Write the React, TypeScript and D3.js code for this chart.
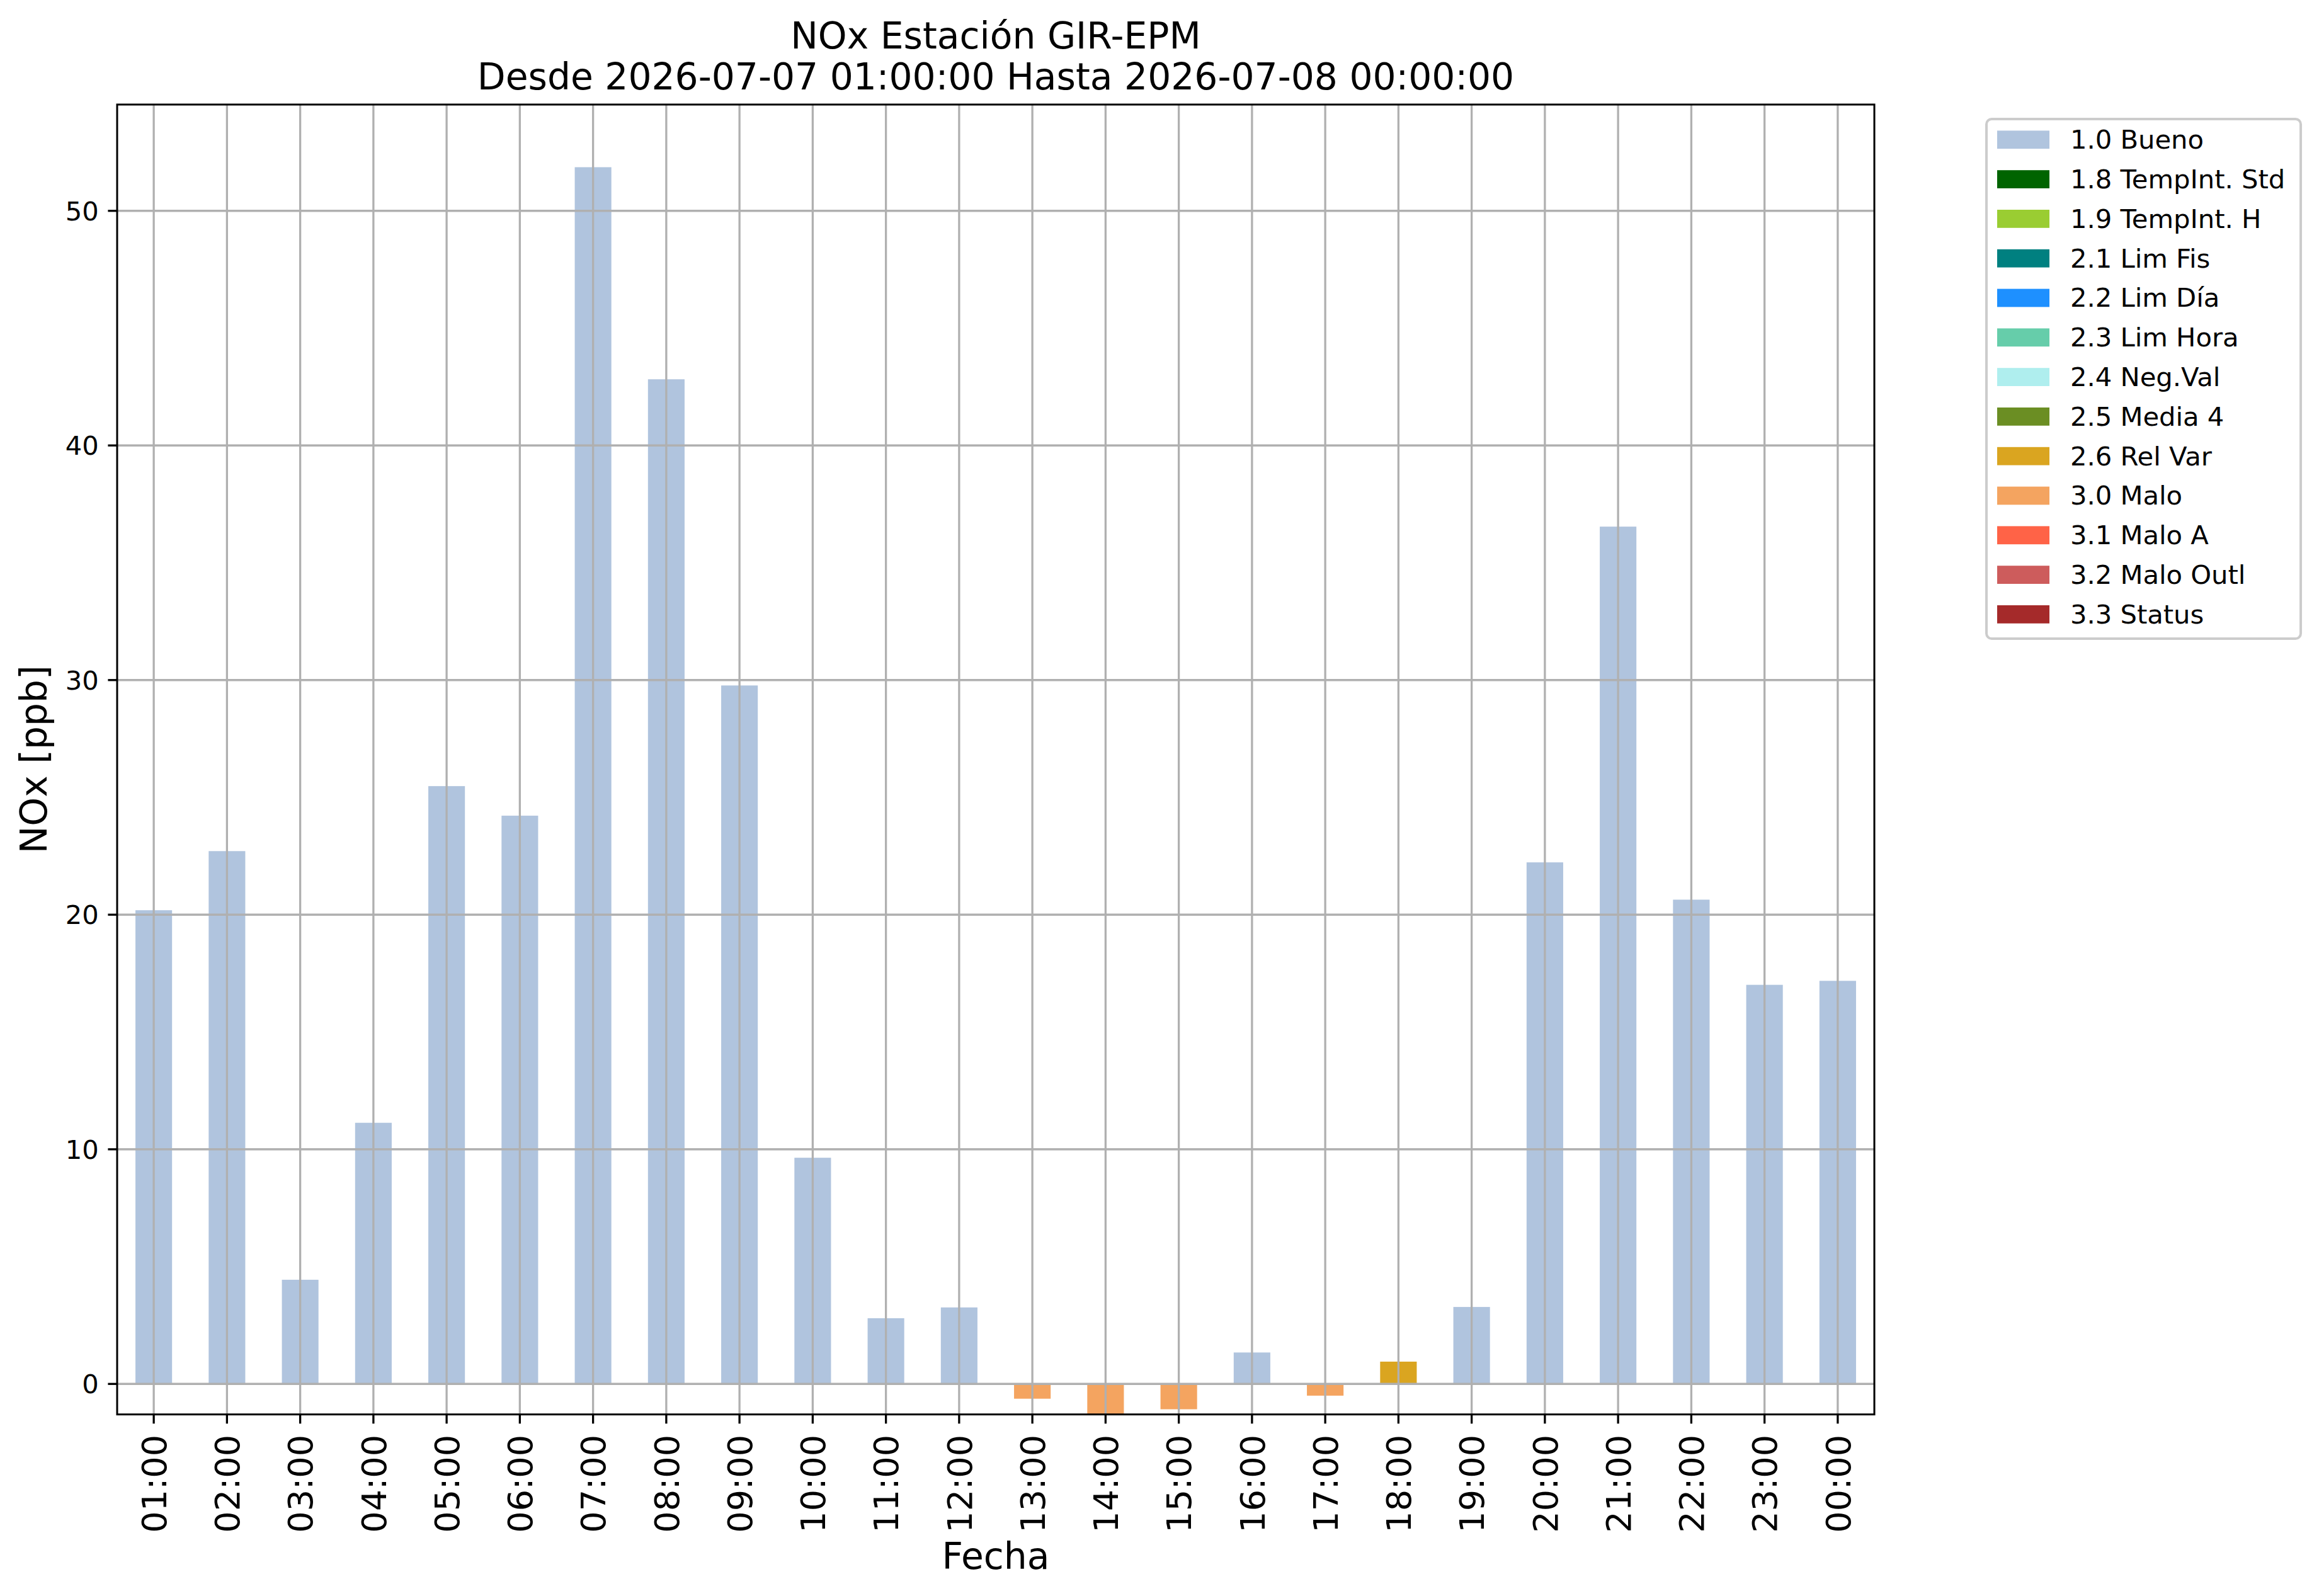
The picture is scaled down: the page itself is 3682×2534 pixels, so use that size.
import React from 'react';
import * as d3 from 'd3';

const TITLE_LINES = ['NOx Estación GIR-EPM', 'Desde 2026-07-07 01:00:00 Hasta 2026-07-08 00:00:00'];
const X_LABEL = 'Fecha';
const Y_LABEL = 'NOx [ppb]';

const HOURS = ['01:00', '02:00', '03:00', '04:00', '05:00', '06:00', '07:00', '08:00', '09:00', '10:00', '11:00', '12:00',
  '13:00', '14:00', '15:00', '16:00', '17:00', '18:00', '19:00', '20:00', '21:00', '22:00', '23:00', '00:00'];
const VALUES = [20.19, 22.71, 4.44, 11.13, 25.48, 24.22, 51.86, 42.82, 29.77, 9.64, 2.8, 3.26,
  -0.63, -1.3, -1.08, 1.34, -0.5, 0.95, 3.28, 22.23, 36.54, 20.64, 17.01, 17.18];
const FLAGS = ['1.0', '1.0', '1.0', '1.0', '1.0', '1.0', '1.0', '1.0', '1.0', '1.0', '1.0', '1.0',
  '3.0', '3.0', '3.0', '1.0', '3.0', '2.6', '1.0', '1.0', '1.0', '1.0', '1.0', '1.0'];

const FLAG_CODES = ['1.0', '1.8', '1.9', '2.1', '2.2', '2.3', '2.4', '2.5', '2.6', '3.0', '3.1', '3.2', '3.3'];
const FLAG_LABELS = ['1.0 Bueno', '1.8 TempInt. Std', '1.9 TempInt. H', '2.1 Lim Fis', '2.2 Lim Día', '2.3 Lim Hora',
  '2.4 Neg.Val', '2.5 Media 4', '2.6 Rel Var', '3.0 Malo', '3.1 Malo A', '3.2 Malo Outl', '3.3 Status'];
const FLAG_COLORS = ['#B0C4DE', '#006400', '#9ACD32', '#008080', '#1E90FF', '#66CDAA', '#AFEEEE', '#6B8E23',
  '#DAA520', '#F4A460', '#FF6347', '#CD5C5C', '#A52A2A'];

const Y_TICKS = [0, 10, 20, 30, 40, 50];
const Y_DOMAIN = [-1.3, 54.53];

const W = 3682;
const H = 2534;
const AX = { left: 186, right: 2976, top: 166, bottom: 2245.7 };
const FONT = 'DejaVu Sans, Verdana, sans-serif';
const GRID = '#b0b0b0';

export default function App() {
  React.useEffect(() => {
    document.body.style.margin = '0';
  }, []);

  const x = d3.scaleBand<string>().domain(HOURS).range([AX.left, AX.right]).paddingInner(0.5).paddingOuter(0.25);
  const y = d3.scaleLinear().domain(Y_DOMAIN).range([AX.bottom, AX.top]);
  const color = d3.scaleOrdinal<string, string>().domain(FLAG_CODES).range(FLAG_COLORS);

  const cx = (AX.left + AX.right) / 2;
  const cy = (AX.top + AX.bottom) / 2;
  const tickLen = 14.6;

  const legend = { left: 3154, top: 189, right: 3653, bottom: 1014, row0: 221.8, rowStep: 62.8 };

  return (
    <svg width={W} height={H} viewBox={`0 0 ${W} ${H}`} style={{ display: 'block', background: '#fff' }} fontFamily={FONT}>
      <rect x={0} y={0} width={W} height={H} fill="#ffffff" />
      <defs>
        <clipPath id="axclip">
          <rect x={AX.left} y={AX.top} width={AX.right - AX.left} height={AX.bottom - AX.top} />
        </clipPath>
      </defs>

      {/* bars */}
      <g clipPath="url(#axclip)">
        {HOURS.map((h, i) => {
          const v = VALUES[i];
          const y0 = y(0);
          const y1 = y(v);
          return (
            <rect key={h} x={x(h)} width={x.bandwidth()} y={Math.min(y0, y1)} height={Math.abs(y1 - y0)}
              fill={color(FLAGS[i])} />
          );
        })}
      </g>

      {/* grid (drawn above bars, as in matplotlib) */}
      <g stroke={GRID} strokeWidth={3.3}>
        {HOURS.map((h) => {
          const px = (x(h) as number) + x.bandwidth() / 2;
          return <line key={h} x1={px} x2={px} y1={AX.top} y2={AX.bottom} />;
        })}
        {Y_TICKS.map((t) => (
          <line key={t} x1={AX.left} x2={AX.right} y1={y(t)} y2={y(t)} />
        ))}
      </g>

      {/* spines */}
      <rect x={AX.left} y={AX.top} width={AX.right - AX.left} height={AX.bottom - AX.top} fill="none" stroke="#000" strokeWidth={3} />

      {/* y ticks */}
      <g>
        {Y_TICKS.map((t) => (
          <g key={t}>
            <line x1={AX.left - tickLen} x2={AX.left} y1={y(t)} y2={y(t)} stroke="#000" strokeWidth={3.3} />
            <text x={AX.left - tickLen - 14.6} y={y(t) + 15.2} fontSize={41.67} textAnchor="end" fill="#000">{t}</text>
          </g>
        ))}
      </g>

      {/* x ticks */}
      <g>
        {HOURS.map((h) => {
          const px = (x(h) as number) + x.bandwidth() / 2;
          return (
            <g key={h}>
              <line x1={px} x2={px} y1={AX.bottom} y2={AX.bottom + tickLen} stroke="#000" strokeWidth={3.3} />
              <g transform={`translate(${px},2278) rotate(-90)`}>
                <text x={0} y={19.7} fontSize={54} textAnchor="end" fill="#000">{h}</text>
              </g>
            </g>
          );
        })}
      </g>

      {/* axis labels */}
      <text x={cx} y={2491} fontSize={58.3} textAnchor="middle" fill="#000">{X_LABEL}</text>
      <g transform={`translate(74,${cy}) rotate(-90)`}>
        <text x={0} y={0} fontSize={58.3} textAnchor="middle" fill="#000">{Y_LABEL}</text>
      </g>

      {/* title */}
      <text x={cx} y={76.5} fontSize={58.3} textAnchor="middle" fill="#000">{TITLE_LINES[0]}</text>
      <text x={cx} y={141.6} fontSize={58.3} textAnchor="middle" fill="#000">{TITLE_LINES[1]}</text>

      {/* legend */}
      <g>
        <rect x={legend.left} y={legend.top} width={legend.right - legend.left} height={legend.bottom - legend.top}
          rx={8.3} ry={8.3} fill="#ffffff" fillOpacity={0.8} stroke="#cccccc" strokeWidth={4} />
        {FLAG_LABELS.map((lab, i) => {
          const rc = legend.row0 + i * legend.rowStep;
          return (
            <g key={lab}>
              <rect x={3171} y={rc - 14.4} width={83} height={28.8} fill={FLAG_COLORS[i]} />
              <text x={3287} y={rc + 14.4} fontSize={41.67} fill="#000">{lab}</text>
            </g>
          );
        })}
      </g>
    </svg>
  );
}
